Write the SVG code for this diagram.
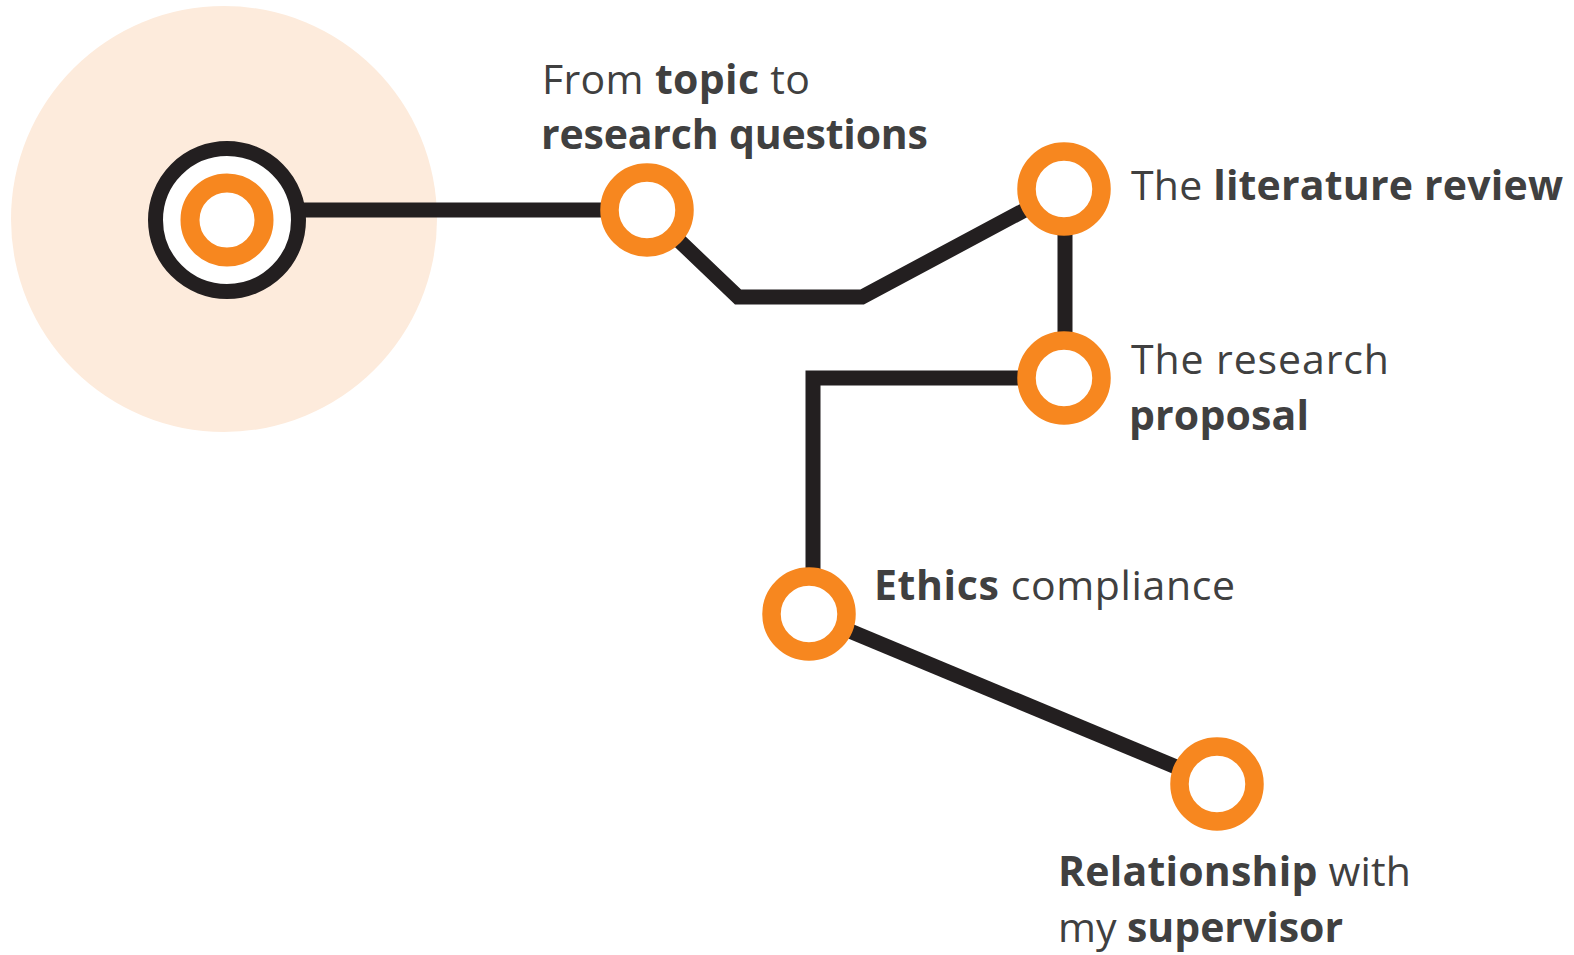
<svg xmlns="http://www.w3.org/2000/svg" width="1574" height="955" viewBox="0 0 1574 955">
<style>
.lbl{font-family:"Open Sans","Liberation Sans",sans-serif;font-size:41px;fill:#404040;}
.b{font-weight:700;}
.ring{fill:#fff;stroke:#f7871f;stroke-width:18.5;}
.conn{fill:none;stroke:#231f20;stroke-width:15;stroke-linejoin:miter;}
</style>
<rect width="1574" height="955" fill="#fff"/>
<circle cx="224" cy="219" r="213" fill="#fdebdc"/>
<g id="connectors">
<path class="conn" d="M300 210 H647"/>
<path class="conn" d="M647 210 L738 297 H862 L1064 189"/>
<path class="conn" d="M1065 189 V378"/>
<path class="conn" d="M1063 378 H813 V614"/>
<path class="conn" d="M809 614 L1217 784"/>
</g>
<g id="start">
<circle cx="227" cy="220" r="71.5" fill="#fff" stroke="#231f20" stroke-width="15"/>
<circle cx="227" cy="220" r="37" fill="#fff" stroke="#f7871f" stroke-width="19"/>
</g>
<g id="topic">
<circle class="ring" cx="647" cy="210" r="37.5"/>
<text class="lbl" x="542" y="94" textLength="268">From <tspan class="b">topic</tspan> to</text>
<text class="lbl b" x="541" y="149" textLength="387">research questions</text>
</g>
<g id="literature">
<circle class="ring" cx="1064" cy="189" r="37.5"/>
<text class="lbl" x="1131" y="200" textLength="432">The <tspan class="b">literature review</tspan></text>
</g>
<g id="proposal">
<circle class="ring" cx="1064" cy="378" r="37.5"/>
<text class="lbl" x="1131" y="374" textLength="258">The research</text>
<text class="lbl b" x="1129" y="430" textLength="180">proposal</text>
</g>
<g id="ethics">
<circle class="ring" cx="809" cy="614" r="37.5"/>
<text class="lbl" x="874" y="600" textLength="361"><tspan class="b">Ethics</tspan> compliance</text>
</g>
<g id="supervisor">
<circle class="ring" cx="1217" cy="784" r="37.5"/>
<text class="lbl" x="1058" y="886" textLength="353"><tspan class="b">Relationship</tspan> with</text>
<text class="lbl" x="1058" y="942" textLength="285">my <tspan class="b">supervisor</tspan></text>
</g>
</svg>
